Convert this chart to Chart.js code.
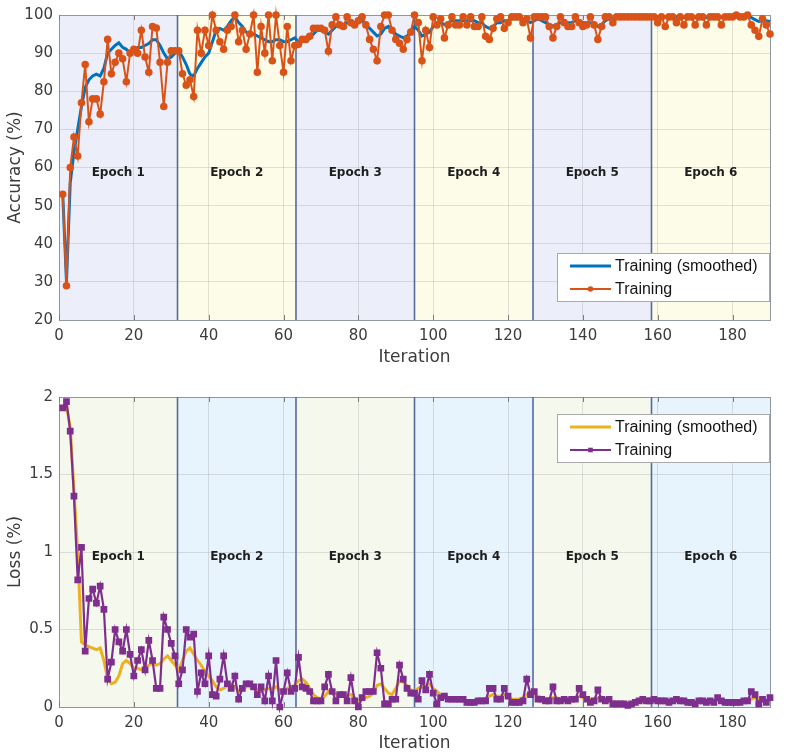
<!DOCTYPE html>
<html>
<head>
<meta charset="utf-8">
<title>Training progress</title>
<script src="https://cdn.jsdelivr.net/npm/chart.js@4.4.1/dist/chart.umd.min.js"></script>
<style>
  html, body { margin: 0; padding: 0; background: #ffffff; }
  #wrap { position: relative; width: 790px; height: 754px; }
  #wrap canvas { position: absolute; left: 0; }
  #accCanvas { top: 0; }
  #lossCanvas { top: 370px; }
</style>
</head>
<body>
<div id="wrap">
  <canvas id="accCanvas" width="790" height="368"></canvas>
  <canvas id="lossCanvas" width="790" height="384"></canvas>
</div>
<script>
// epochs: iteration where each one starts/ends
const epochEdges = [0, 31.67, 63.33, 95, 126.67, 158.33, 190];
const epochNames = ['Epoch 1', 'Epoch 2', 'Epoch 3', 'Epoch 4', 'Epoch 5', 'Epoch 6'];

// x tick labels shown on both charts
const iterTicks = [0, 20, 40, 60, 80, 100, 120, 140, 160, 180];

// accuracy per iteration (1..190)
const accTrain = [
  53, 29, 60, 68, 63, 77, 87, 72, 78, 78,
  74, 82.5, 93.6, 84.6, 87.6, 90, 88.5, 82.5, 90, 91,
  90, 96, 89, 85, 97, 96.6, 87.6, 76, 87.6, 90.6,
  90.6, 90.6, 84.6, 81.6, 83, 78.6, 96, 90, 96, 92,
  100, 96, 93, 91, 96, 97, 100, 93, 96, 91,
  95, 100, 85, 97, 90, 100, 88, 100, 92, 85,
  97, 88, 92, 92.3, 93.6, 93.6, 94.4, 96.5, 96.5, 96.5,
  96, 90.5, 97.4, 99.5, 97.4, 97, 99.5, 98, 97.4, 98.5,
  99.5, 97.4, 93.6, 91, 88, 97, 100, 100, 96, 93.6,
  92.6, 91, 93.6, 95.5, 100, 98, 88, 96, 91.5, 99.5,
  97.4, 99, 94, 97.4, 99.5, 97.4, 97.4, 99.5, 97.4, 99.5,
  97, 97, 99.5, 94.4, 93.6, 96.5, 99, 99.5, 96.5, 98,
  99.5, 99.5, 99.5, 98, 99, 94, 99.5, 99.5, 99.5, 99.5,
  97, 94, 97, 99.5, 98, 97, 97, 99.5, 98, 97,
  97.4, 99.5, 97.4, 93.6, 97, 99.5, 99.5, 98, 99.5, 99.5,
  99.5, 99.5, 99.5, 99.5, 99.5, 99.5, 99.5, 99.5, 99.5, 98,
  99.5, 97, 99.5, 99.5, 98, 99.5, 97.4, 99.5, 99.5, 97.4,
  99.5, 99.5, 97.4, 99.5, 99.5, 99.5, 97.4, 99.5, 99.5, 99.5,
  100, 99.5, 99.5, 100, 97.4, 96, 94.4, 99, 97.4, 95
];
const accSmooth = [
  53, 30, 56, 64, 70, 76, 81, 83, 84, 84.5,
  84, 86, 90, 91, 92, 92.7, 91.5, 91, 90, 91,
  91.5, 91.5, 92, 92.5, 93.5, 93.5, 92, 90, 88.5, 89,
  90, 90.5, 89, 87, 84.5, 84, 86, 87.5, 89, 90,
  93, 96, 96.5, 96, 97, 98.5, 99.5, 98, 97, 95.5,
  95, 95, 94.5, 94, 93.5, 93, 93, 93.5, 93.5, 93,
  93, 93.5, 94, 93, 93, 93.5, 94, 95, 96, 96,
  95.5, 95, 96, 97, 97.5, 97.5, 98, 98, 98, 98.5,
  98.5, 97.5, 96.5, 95.5, 94.5, 95, 96.5, 97, 96, 95,
  94.5, 94, 94.5, 95.5, 97, 96, 94.5, 95, 95.5, 97,
  97.5, 98, 97.5, 98, 98.5, 98.5, 98.5, 98.5, 98.5, 98.5,
  98.5, 98, 98, 97, 96.5, 97, 98, 98, 98.5, 98.5,
  99, 99, 99, 99, 98.5, 98, 98.5, 99, 98.5, 98,
  97.5, 97, 97.5, 98, 98, 98, 98, 98.5, 98.5, 98,
  98, 98, 97.5, 97, 97.5, 98.5, 99, 99, 99.5, 99.5,
  99.5, 99.5, 99.5, 99.5, 99.5, 99.5, 99.5, 99.5, 99.5, 99.5,
  99.5, 99.5, 99.3, 99.5, 99.5, 99.3, 99.3, 99.5, 99.5, 99.3,
  99.3, 99.5, 99.3, 99.5, 99.5, 99.5, 99.3, 99.5, 99.5, 99.5,
  99.7, 99.7, 99.7, 99.8, 99.3, 98.8, 98.3, 98.5, 98.5, 98.3
];

// loss per iteration (1..190)
const lossTrain = [
  1.93, 1.97, 1.78, 1.36, 0.82, 1.03, 0.36, 0.70, 0.76, 0.67,
  0.78, 0.63, 0.18, 0.29, 0.50, 0.42, 0.36, 0.50, 0.34, 0.20,
  0.30, 0.37, 0.24, 0.43, 0.30, 0.12, 0.12, 0.58, 0.50, 0.41,
  0.33, 0.15, 0.24, 0.50, 0.45, 0.47, 0.10, 0.22, 0.15, 0.33,
  0.08, 0.07, 0.18, 0.33, 0.15, 0.12, 0.20, 0.05, 0.12, 0.15,
  0.15, 0.13, 0.08, 0.13, 0.04, 0.20, 0.04, 0.30, 0.00, 0.10,
  0.22, 0.10, 0.12, 0.32, 0.13, 0.12, 0.10, 0.04, 0.04, 0.04,
  0.13, 0.21, 0.10, 0.04, 0.08, 0.08, 0.04, 0.19, 0.04, 0.00,
  0.06, 0.10, 0.10, 0.10, 0.35, 0.25, 0.02, 0.02, 0.05, 0.05,
  0.27, 0.18, 0.12, 0.09, 0.09, 0.05, 0.17, 0.11, 0.21, 0.09,
  0.02, 0.06, 0.07, 0.05, 0.05, 0.05, 0.05, 0.05, 0.03, 0.03,
  0.03, 0.04, 0.04, 0.04, 0.12, 0.12, 0.05, 0.05, 0.12, 0.07,
  0.03, 0.03, 0.03, 0.04, 0.18, 0.08, 0.10, 0.05, 0.05, 0.04,
  0.04, 0.13, 0.04, 0.04, 0.05, 0.04, 0.05, 0.05, 0.12, 0.08,
  0.05, 0.03, 0.04, 0.11, 0.05, 0.04, 0.05, 0.02, 0.02, 0.02,
  0.02, 0.01, 0.02, 0.03, 0.04, 0.05, 0.04, 0.04, 0.05, 0.04,
  0.04, 0.04, 0.03, 0.04, 0.05, 0.04, 0.04, 0.03, 0.03, 0.02,
  0.04, 0.04, 0.03, 0.04, 0.03, 0.06, 0.04, 0.03, 0.03, 0.03,
  0.03, 0.03, 0.04, 0.04, 0.10, 0.08, 0.02, 0.05, 0.03, 0.06
];
const lossSmooth = [
  1.93, 1.95, 1.80, 1.40, 1.00, 0.42, 0.40, 0.39, 0.38, 0.37,
  0.38, 0.30, 0.18, 0.15, 0.16, 0.20, 0.28, 0.30, 0.28, 0.25,
  0.25, 0.24, 0.26, 0.27, 0.28, 0.27, 0.28, 0.31, 0.33, 0.30,
  0.27, 0.24, 0.30, 0.36, 0.38, 0.34, 0.30, 0.27, 0.23, 0.20,
  0.17, 0.13, 0.11, 0.12, 0.14, 0.15, 0.13, 0.10, 0.11, 0.13,
  0.13, 0.12, 0.11, 0.10, 0.11, 0.12, 0.12, 0.13, 0.11, 0.10,
  0.12, 0.13, 0.14, 0.17, 0.18, 0.16, 0.12, 0.08, 0.06, 0.05,
  0.07, 0.10, 0.10, 0.08, 0.07, 0.07, 0.07, 0.08, 0.06, 0.04,
  0.05, 0.06, 0.07, 0.09, 0.14, 0.15, 0.12, 0.09, 0.08, 0.12,
  0.17, 0.16, 0.14, 0.11, 0.10, 0.12, 0.13, 0.14, 0.15, 0.12,
  0.10, 0.08, 0.07, 0.06, 0.05, 0.05, 0.04, 0.04, 0.03, 0.03,
  0.03, 0.03, 0.04, 0.05, 0.07, 0.08, 0.07, 0.07, 0.08, 0.07,
  0.05, 0.05, 0.05, 0.06, 0.08, 0.08, 0.08, 0.07, 0.06, 0.05,
  0.05, 0.06, 0.06, 0.05, 0.05, 0.04, 0.05, 0.06, 0.07, 0.06,
  0.05, 0.05, 0.05, 0.06, 0.06, 0.05, 0.04, 0.03, 0.02, 0.02,
  0.02, 0.02, 0.02, 0.02, 0.03, 0.03, 0.03, 0.04, 0.04, 0.04,
  0.04, 0.04, 0.03, 0.03, 0.04, 0.04, 0.03, 0.03, 0.03, 0.03,
  0.03, 0.03, 0.03, 0.03, 0.04, 0.04, 0.04, 0.03, 0.03, 0.03,
  0.03, 0.03, 0.03, 0.03, 0.05, 0.06, 0.05, 0.04, 0.04, 0.04
];

Chart.defaults.font.family = '"DejaVu Sans", "Liberation Sans", sans-serif';
Chart.defaults.color = '#3c3c3c';

const gridColor = 'rgba(150, 150, 150, 0.28)';
const axisText = '#3c3c3c';

// iteration index -> {x, y}
const toXY = (arr) => arr.map((v, k) => ({ x: k + 1, y: v }));

// shaded epochs, dividers, epoch names, frame and the boxed legend
const epochPlugin = {
  id: 'epochPlugin',
  beforeDraw(chart, args, opts) {
    const { ctx, chartArea, scales: { x } } = chart;
    ctx.save();
    for (let k = 0; k < epochNames.length; k++) {
      const x0 = x.getPixelForValue(epochEdges[k]);
      const x1 = x.getPixelForValue(epochEdges[k + 1]);
      ctx.fillStyle = opts.fills[k % 2];
      ctx.fillRect(x0, chartArea.top, x1 - x0, chartArea.bottom - chartArea.top);
    }
    ctx.restore();
  },
  beforeDatasetsDraw(chart, args, opts) {
    const { ctx, chartArea, scales: { x, y } } = chart;
    ctx.save();
    // frame
    ctx.strokeStyle = '#8f96a3';
    ctx.lineWidth = 1;
    ctx.strokeRect(chartArea.left + 0.5, chartArea.top + 0.5,
      chartArea.right - chartArea.left, chartArea.bottom - chartArea.top);
    // small inward tick marks, matlab style
    ctx.strokeStyle = '#7d7d7d';
    iterTicks.forEach((v) => {
      const px = Math.round(x.getPixelForValue(v)) + 0.5;
      ctx.beginPath();
      ctx.moveTo(px, chartArea.bottom);
      ctx.lineTo(px, chartArea.bottom - 5);
      ctx.moveTo(px, chartArea.top);
      ctx.lineTo(px, chartArea.top + 5);
      ctx.stroke();
    });
    // epoch dividers
    ctx.strokeStyle = '#566b9c';
    ctx.lineWidth = 1.6;
    for (let k = 1; k < epochEdges.length - 1; k++) {
      const px = x.getPixelForValue(epochEdges[k]);
      ctx.beginPath();
      ctx.moveTo(px, chartArea.top);
      ctx.lineTo(px, chartArea.bottom);
      ctx.stroke();
    }
    // epoch names
    ctx.fillStyle = '#1e1e1e';
    ctx.font = 'bold 12px "DejaVu Sans", sans-serif';
    ctx.textAlign = 'center';
    ctx.textBaseline = 'middle';
    const ly = y.getPixelForValue(opts.labelY);
    for (let k = 0; k < epochNames.length; k++) {
      const mid = (epochEdges[k] + epochEdges[k + 1]) / 2;
      ctx.fillText(epochNames[k], x.getPixelForValue(mid), ly);
    }
    ctx.restore();
  },
  afterDraw(chart, args, opts) {
    const { ctx, chartArea } = chart;
    const w = 213, h = 49;
    const left = chartArea.right - w;
    const top = opts.legendTop;
    ctx.save();
    ctx.fillStyle = '#ffffff';
    ctx.fillRect(left, top, w, h);
    ctx.strokeStyle = '#a9a9a9';
    ctx.lineWidth = 1;
    ctx.strokeRect(left + 0.5, top + 0.5, w - 1, h - 1);
    ctx.font = '16px "Liberation Sans", Arial, sans-serif';
    ctx.textAlign = 'left';
    ctx.textBaseline = 'middle';
    chart.data.datasets.forEach((ds, k) => {
      const ry = top + 13 + k * 23;
      ctx.strokeStyle = ds.borderColor;
      ctx.lineWidth = ds.borderWidth;
      ctx.beginPath();
      ctx.moveTo(left + 13, ry);
      ctx.lineTo(left + 54, ry);
      ctx.stroke();
      if (ds.pointRadius > 0) {
        ctx.fillStyle = ds.borderColor;
        if (ds.pointStyle === 'rect') {
          ctx.fillRect(left + 33.5 - 2.3, ry - 2.3, 4.6, 4.6);
        } else {
          ctx.beginPath();
          ctx.arc(left + 33.5, ry, 2.8, 0, Math.PI * 2);
          ctx.fill();
        }
      }
      ctx.fillStyle = '#141414';
      ctx.fillText(ds.label, left + 58, ry + 1);
    });
    ctx.restore();
  }
};

function buildOptions(yMin, yMax, yStep, yTitle, xHeight, padTop, bands) {
  return {
    responsive: false,
    animation: false,
    layout: { padding: { left: 0, right: 20, top: padTop, bottom: 0 } },
    elements: { line: { tension: 0 } },
    plugins: {
      legend: { display: false },
      tooltip: { enabled: false },
      epochPlugin: bands
    },
    scales: {
      x: {
        type: 'linear',
        min: 0,
        max: 190,
        bounds: 'data',
        afterBuildTicks(scale) {
          scale.ticks = iterTicks.map((v) => ({ value: v }));
        },
        ticks: { padding: 7, color: axisText, font: { size: 15 }, maxRotation: 0 },
        grid: { color: gridColor, drawTicks: false },
        border: { display: false },
        title: { display: true, text: 'Iteration', color: axisText, font: { size: 17 }, padding: { top: 0, bottom: 0 } },
        afterFit(scale) { scale.height = xHeight; }
      },
      y: {
        min: yMin,
        max: yMax,
        ticks: {
          stepSize: yStep,
          padding: 6,
          color: axisText,
          font: { size: 15 },
          callback: (value) => String(value)
        },
        grid: { color: gridColor, drawTicks: false },
        border: { display: false },
        title: { display: true, text: yTitle, color: axisText, font: { size: 17 }, padding: { top: 5, bottom: 0 } },
        afterFit(scale) { scale.width = 59; }
      }
    }
  };
}

// Accuracy chart
new Chart(document.getElementById('accCanvas'), {
  type: 'line',
  data: {
    datasets: [
      {
        label: 'Training (smoothed)',
        data: toXY(accSmooth),
        borderColor: '#0072BD',
        borderWidth: 3,
        pointRadius: 0,
        order: 2,
        clip: false
      },
      {
        label: 'Training',
        data: toXY(accTrain),
        borderColor: '#D95319',
        backgroundColor: '#D95319',
        borderWidth: 2,
        pointRadius: 2.8,
        pointStyle: 'circle',
        order: 1,
        clip: false
      }
    ]
  },
  options: buildOptions(20, 100, 10, 'Accuracy (%)', 48, 8, {
    fills: ['#eceffa', '#fdfce8'],
    labelY: 58.5,
    legendTop: 253
  }),
  plugins: [epochPlugin]
});

// Loss chart
new Chart(document.getElementById('lossCanvas'), {
  type: 'line',
  data: {
    datasets: [
      {
        label: 'Training (smoothed)',
        data: toXY(lossSmooth),
        borderColor: '#EDB120',
        borderWidth: 3,
        pointRadius: 0,
        order: 2,
        clip: false
      },
      {
        label: 'Training',
        data: toXY(lossTrain),
        borderColor: '#7E2F8E',
        backgroundColor: '#7E2F8E',
        borderWidth: 2.2,
        pointRadius: 3.2,
        pointStyle: 'rect',
        order: 1,
        clip: false
      }
    ]
  },
  options: buildOptions(0, 2, 0.5, 'Loss (%)', 47, 27, {
    fills: ['#f5f8ec', '#e7f3fd'],
    labelY: 0.97,
    legendTop: 44
  }),
  plugins: [epochPlugin]
});
</script>
</body>
</html>
